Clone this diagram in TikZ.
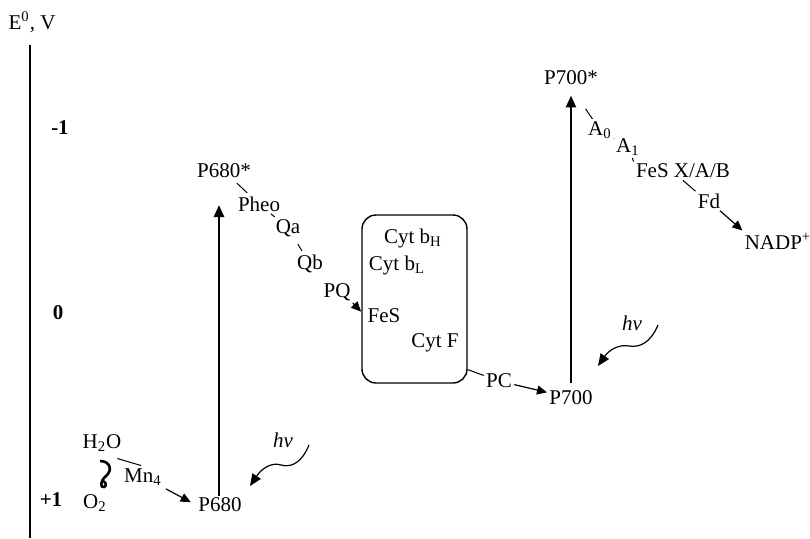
\documentclass[tikz,border=0pt]{standalone}
\usepackage{fontspec}
\setmainfont{Liberation Serif}
\usetikzlibrary{arrows.meta}
\tikzset{
  lbl/.style    = {inner sep=1pt, font=\fontsize{10.5}{12}\selectfont},
  volt/.style   = {lbl, font=\fontsize{10.5}{12}\selectfont\bfseries},
  axis/.style   = {line width=0.75pt},
  link/.style   = {line width=0.5pt},
  ar/.style     = {-{Triangle[length=5pt,width=4.5pt]}, line width=0.6pt},
  up/.style     = {-{Triangle[length=6pt,width=5pt]}, line width=1.25pt},
  wave/.style   = {-{Triangle[length=6pt,width=5pt]}, line width=0.6pt},
  cytbox/.style = {draw, rounded corners=7pt, minimum width=52.5pt,
                   minimum height=84pt, line width=0.7pt, inner sep=0pt},
}
\begin{document}
\begin{tikzpicture}[x=0.5pt, y=-0.5pt, every node/.style={lbl}]
  \useasboundingbox (0,0) rectangle (810,538);
  % potential axis
  \node (eaxis) at (32,22) {E\textsuperscript{0}, V};
  \coordinate (atop) at (30,45);
  \coordinate (abot) at (30,538);
  \draw[axis] (atop) -- (abot);
  \node[volt] (vm1) at (60,128) {-1};
  \node[volt] (v0) at (58,313) {0};
  \node[volt] (vp1) at (51,500) {+1};

  % photosystem II
  \node (p680)  at (220,505) {P680};
  \node (p680s) at (224,171) {P680*};
  \coordinate (ex1) at (219,205);
  \draw[up] (p680.north -| ex1) -- (ex1);
  \node (pheo) at (259,204) {Pheo};
  \node (qa)   at (288,228) {Qa};
  \node (qb)   at (310,264) {Qb};
  \node (pq)   at (337,292) {PQ};
  \draw[link, shorten <=2pt, shorten >=1pt] (p680s) -- (pheo);
  \draw[link] (pheo) -- (qa);
  \draw[link, shorten <=3pt, shorten >=1pt] (qa) -- (qb);

  % water splitting
  \node (h2o) at (102,443) {H\textsubscript{2}O};
  \node (o2)  at (95,503) {O\textsubscript{2}};
  \node (mn4) at (143,477) {Mn\textsubscript{4}};
  \draw[line width=1.3pt] (100,461) .. controls (110,461) and (113,470) .. (106,476)
    .. controls (100,481) and (100,488) .. (104,487)
    .. controls (107,486) and (106,482) .. (103,481);
  \draw[link, shorten <=8pt, shorten >=1pt] (h2o.south) -- (mn4.north);
  \draw[ar, shorten <=1pt, shorten >=3pt] (mn4.south east) -- (p680.west);

  % light quanta
  \node (hv1) at (283,440) {\textit{hv}};
  \coordinate (w1a) at (309,445);
  \coordinate (w1b) at (250,486);
  \draw[wave] (w1a) .. controls (302,462) and (292,468) .. (281,465)
    .. controls (272,462) and (262,468) .. (w1b);
  \node (hv2) at (632,323) {\textit{hv}};
  \coordinate (w2a) at (658,325);
  \coordinate (w2b) at (598,366);
  \draw[wave] (w2a) .. controls (651,342) and (640,348) .. (629,346)
    .. controls (619,344) and (609,350) .. (w2b);

  % cytochrome complex
  \node[cytbox] (box) at (414.5,299) {};
  \node (cytbh) at (413,238) {Cyt b\textsubscript{H}};
  \node (cytbl) at (397,265) {Cyt b\textsubscript{L}};
  \node (fes)   at (384,316) {FeS};
  \node (cytf)  at (435,343) {Cyt F};
  \draw[ar, shorten >=3pt] (pq.south east) -- (fes.west);

  % photosystem I
  \node (pc)    at (499,381) {PC};
  \node (p700)  at (571,398) {P700};
  \node (p700s) at (571,78) {P700*};
  \draw[link] (box.-53) -- (pc);
  \draw[ar] (pc) -- (p700);
  \draw[up, shorten <=3pt, shorten >=4pt] (p700) -- (p700s);
  \node (a0)   at (600,130) {A\textsubscript{0}};
  \node (a1)   at (628,147) {A\textsubscript{1}};
  \node (fesx) at (683,171) {FeS X/A/B};
  \node (fd)   at (709,201) {Fd};
  \node (nadp) at (778,241) {NADP\textsuperscript{+}};
  \draw[link, shorten <=13pt] (p700s.south) -- (a0);
  \draw[link] (a0) -- (a1);
  \draw[link] (a1) -- (fesx.north west);
  \draw[link] (fesx.south) -- (fd.north west);
  \draw[ar] (fd) -- (nadp.north west);
\end{tikzpicture}
\end{document}
